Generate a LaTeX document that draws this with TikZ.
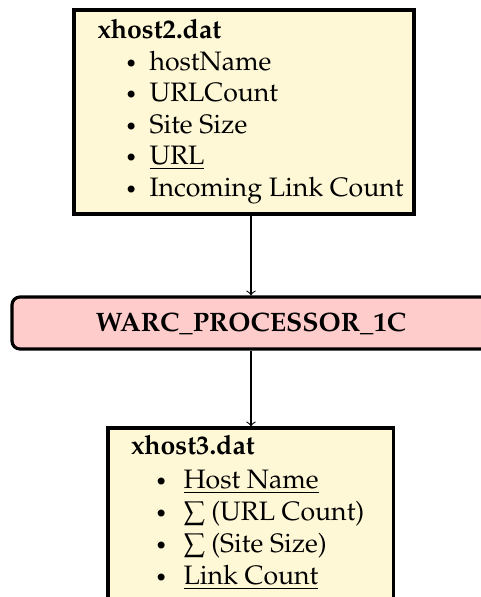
\documentclass[tikz,border=0pt]{standalone}
\usepackage[T1]{fontenc}
\usepackage{textcomp}
\usepackage{mathpazo}
\usetikzlibrary{fit,shadows}
\definecolor{filecream}{RGB}{255,248,214}
\definecolor{procpink}{RGB}{255,204,204}
\newcommand{\itemdot}{{\fontsize{7.6}{8}\selectfont\textbullet}}
\tikzset{
  filebox/.style={draw=black, line width=1.2pt, fill=filecream, inner sep=0pt,
    drop shadow={shadow xshift=0.35pt, shadow yshift=-0.35pt, fill=black!45, opacity=1}},
  procbox/.style={draw=black, line width=1.2pt, fill=procpink, rounded corners=3pt, inner sep=0pt,
    drop shadow={shadow xshift=0.35pt, shadow yshift=-0.35pt, fill=black!45, opacity=1}},
  lbl/.style={anchor=base west, inner sep=0pt, font=\normalsize},
  ttl/.style={anchor=base west, inner sep=0pt, font=\normalsize\bfseries},
  flow/.style={->, line width=0.4pt},
}
\begin{document}
\begin{tikzpicture}[x=0.375pt, y=-0.375pt]
\useasboundingbox (0,0) rectangle (481,597);
\clip (0,0) rectangle (481,597);

% input file
\node[filebox, fit={(74,10) (414,214)}] (h2) {};
\node[ttl] (h2t) at (97,38) {xhost2.dat};
\node[lbl] (h2b1) at (124.5,70) {\itemdot};
\node[lbl] (h2i1) at (149,70) {hostName};
\node[lbl] (h2b2) at (124.5,101.5) {\itemdot};
\node[lbl] (h2i2) at (149,101.5) {URLCount};
\node[lbl] (h2b3) at (124.5,133) {\itemdot};
\node[lbl] (h2i3) at (149,133) {Site Size};
\node[lbl] (h2b4) at (124.5,164.5) {\itemdot};
\node[lbl] (h2i4) at (149,164.5) {\underline{URL}};
\node[lbl] (h2b5) at (124.5,196) {\itemdot};
\node[lbl] (h2i5) at (149,196) {Incoming Link Count};

% processing step
\node[procbox, fit={(12,297) (490,349)}] (proc) {};
\node[inner sep=0pt, anchor=base, font=\normalsize\bfseries] (proct) at (251,331) {WARC\_PROCESSOR\_1C};

% output file
\node[filebox, fit={(108,428) (393.5,640)}] (h3) {};
\node[ttl] (h3t) at (130.5,454.5) {xhost3.dat};
\node[lbl] (h3b1) at (154.5,488) {\itemdot};
\node[lbl] (h3i1) at (183,488) {\underline{Host Name}};
\node[lbl] (h3b2) at (154.5,520) {\itemdot};
\node[lbl] (h3i2) at (183,520) {$\sum$ (URL Count)};
\node[lbl] (h3b3) at (154.5,552) {\itemdot};
\node[lbl] (h3i3) at (183,552) {$\sum$ (Site Size)};
\node[lbl] (h3b4) at (154.5,584) {\itemdot};
\node[lbl] (h3i4) at (183,584) {\underline{Link Count}};

% data flow
\draw[flow] (proc.north |- h2.south) -- (proc.north);
\draw[flow] (proc.south) -- (proc.south |- h3.north);
\end{tikzpicture}
\end{document}
